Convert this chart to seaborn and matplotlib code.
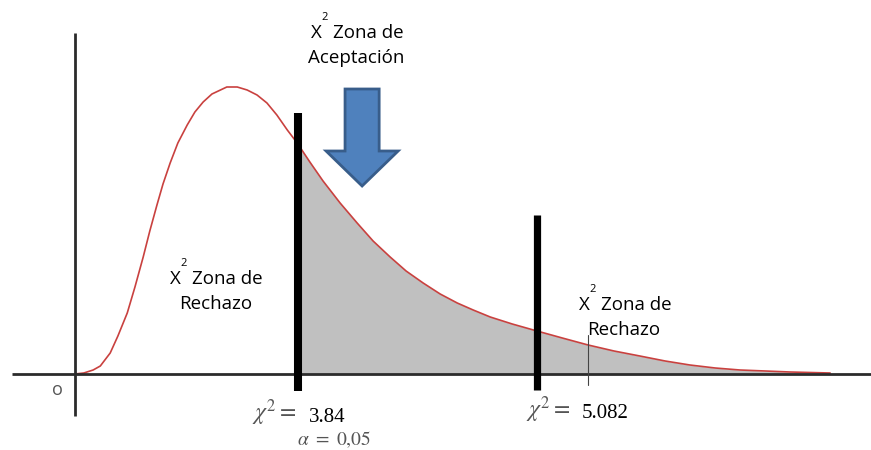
import numpy as np
import matplotlib
matplotlib.use("Agg")
import matplotlib.pyplot as plt
import seaborn as sns
from matplotlib.patches import FancyArrow

# density curve (x in arbitrary chi units, y in density units)
curve_x = [0.0, 0.16, 0.33, 0.46, 0.64, 0.78, 0.95, 1.09, 1.24, 1.36, 1.49, 1.60,
           1.73, 1.87, 2.04, 2.18, 2.33, 2.49, 2.76, 2.95, 3.13, 3.31, 3.49, 3.67,
           3.86, 4.04, 4.27, 4.51, 4.82, 5.13, 5.42, 5.73, 6.02, 6.33, 6.64, 6.95,
           7.24, 7.55, 7.95, 8.40, 8.86, 9.33, 9.80, 10.27, 10.73, 11.18, 11.64,
           12.09, 12.55, 13.00, 13.73]
curve_y = [0.000, 0.001, 0.004, 0.008, 0.021, 0.038, 0.061, 0.087, 0.117, 0.143,
           0.169, 0.190, 0.211, 0.231, 0.249, 0.262, 0.272, 0.280, 0.287, 0.287,
           0.284, 0.279, 0.271, 0.259, 0.244, 0.231, 0.212, 0.193, 0.171, 0.151,
           0.133, 0.117, 0.103, 0.091, 0.080, 0.071, 0.064, 0.057, 0.050, 0.043,
           0.036, 0.029, 0.023, 0.018, 0.013, 0.009, 0.006, 0.004, 0.003, 0.002,
           0.001]

# positions of the critical lines on the drawn axis and their labels
crit_left_x = 4.05
crit_right_x = 8.40
tick_x = 9.33
crit_labels = ["3.84", "5.082"]
alpha_label = "0,05"

sns.set_style("white")
plt.rcParams['font.family'] = ['Open Sans', 'DejaVu Sans']
plt.rcParams['mathtext.fontset'] = 'stix'
plt.rcParams['text.color'] = 'black'

W, H = 871, 450
fig = plt.figure(figsize=(W / 100, H / 100), dpi=100)
ax = fig.add_axes([0, 0, 1, 1])
# 55 px per x unit, 1000 px per y unit, origin at pixel (75, 374)
ax.set_xlim(-75 / 55, (W - 75) / 55)
ax.set_ylim(-(H - 374) / 1000, 374 / 1000)
ax.axis('off')

x = np.array(curve_x)
y = np.array(curve_y)

# grey tail from the left critical line onwards
mask = x > crit_left_x
tail_x = np.concatenate([[crit_left_x], x[mask]])
tail_y = np.concatenate([[np.interp(crit_left_x, x, y)], y[mask]])
ax.fill_between(tail_x, tail_y, 0, color='#c0c0c0', lw=0)

sns.lineplot(x=x, y=y, color='#c9413f', lw=1.2, ax=ax)

# axes of the sketch
ax.plot([-63 / 55, (W - 75) / 55], [0, 0], color='#2b2b2b', lw=2, solid_capstyle='butt')
ax.plot([0, 0], [-0.042, 0.341], color='#2b2b2b', lw=2, solid_capstyle='butt')

# critical lines
ax.plot([crit_left_x] * 2, [-0.017, 0.261], color='black', lw=5.8, solid_capstyle='butt')
ax.plot([crit_right_x] * 2, [-0.016, 0.159], color='black', lw=5.2, solid_capstyle='butt')
ax.plot([tick_x] * 2, [-0.011, 0.039], color='#444444', lw=0.8)

# arrow pointing into the acceptance zone
ax.add_patch(FancyArrow(5.22, 0.285, 0, -0.097, width=0.62, head_width=1.31,
                        head_length=0.035, length_includes_head=True,
                        fc='#4f81bd', ec='#385d8a', lw=2))


def put(px, py, s, **kw):
    kw.setdefault('va', 'center')
    kw.setdefault('ha', 'left')
    kw.setdefault('size', 13.5)
    fig.text(px / W, 1 - py / H, s, **kw)


def zone(px, py, word, cx):
    put(px, py, 'X')
    put(px + 14, py - 16, '2', size=8, ha='center')
    put(px + 22, py, 'Zona de')
    put(cx, py + 25, word, ha='center')


zone(311, 33, 'Aceptación', 356)
zone(170, 279, 'Rechazo', 216)
zone(579, 305, 'Rechazo', 624)

put(57, 390, 'o', color='#555555', size=13, ha='center')

put(252, 413, r'$\chi^2 =$', color='#555555', size=17)
put(309, 417, crit_labels[0], family='Liberation Serif', size=15)
put(526, 410, r'$\chi^2 =$', color='#555555', size=17)
put(582, 414, crit_labels[1], family='Liberation Serif', size=15)
put(297, 440, r'$\alpha\ =\ $' + alpha_label, color='#555555', size=14,
    family='STIXGeneral')

fig.savefig('out.png', dpi=100)
